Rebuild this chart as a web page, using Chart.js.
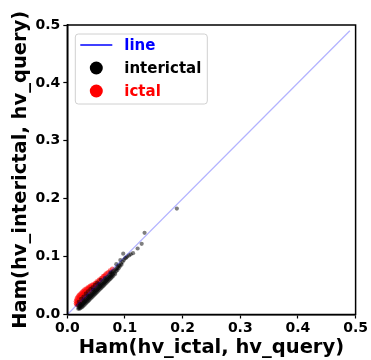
<!DOCTYPE html>
<html>
<head>
<meta charset="utf-8">
<script src="https://cdn.jsdelivr.net/npm/chart.js@4"></script>
<style>
  html, body { margin: 0; padding: 0; background: #fff; }
  #wrap { width: 371px; height: 360px; }
</style>
</head>
<body>
<div id="wrap"><canvas id="chart" width="371" height="360"></canvas></div>
<script>
// reference line y = x
const lineX = [0.0, 0.49];
const lineY = [0.0, 0.49];

// interictal points [Ham(hv_ictal, hv_query), Ham(hv_interictal, hv_query)]
const interictal = [
  [0.019, 0.010], [0.020, 0.012], [0.021, 0.010], [0.021, 0.015], [0.022, 0.013],
  [0.023, 0.011], [0.023, 0.017], [0.024, 0.014], [0.025, 0.019], [0.025, 0.016],
  [0.026, 0.013], [0.027, 0.021], [0.027, 0.018], [0.028, 0.015], [0.029, 0.023],
  [0.029, 0.020], [0.030, 0.017], [0.031, 0.026], [0.031, 0.022], [0.032, 0.019],
  [0.033, 0.028], [0.033, 0.024], [0.034, 0.021], [0.035, 0.030], [0.035, 0.026],
  [0.036, 0.023], [0.037, 0.032], [0.037, 0.028], [0.038, 0.025], [0.039, 0.034],
  [0.039, 0.030], [0.040, 0.027], [0.041, 0.036], [0.041, 0.032], [0.042, 0.029],
  [0.043, 0.038], [0.043, 0.034], [0.044, 0.031], [0.045, 0.040], [0.045, 0.036],
  [0.046, 0.033], [0.047, 0.042], [0.047, 0.038], [0.048, 0.035], [0.049, 0.044],
  [0.049, 0.040], [0.050, 0.037], [0.051, 0.046], [0.051, 0.042], [0.052, 0.039],
  [0.053, 0.048], [0.053, 0.044], [0.054, 0.041], [0.055, 0.050], [0.055, 0.046],
  [0.056, 0.043], [0.057, 0.052], [0.057, 0.048], [0.058, 0.045], [0.059, 0.054],
  [0.059, 0.050], [0.060, 0.047], [0.061, 0.056], [0.061, 0.052], [0.062, 0.049],
  [0.063, 0.058], [0.063, 0.054], [0.064, 0.051], [0.065, 0.060], [0.065, 0.056],
  [0.066, 0.053], [0.067, 0.062], [0.067, 0.058], [0.068, 0.055], [0.069, 0.064],
  [0.069, 0.060], [0.070, 0.057], [0.071, 0.066], [0.071, 0.062], [0.072, 0.059],
  [0.073, 0.068], [0.073, 0.064], [0.074, 0.061], [0.075, 0.070], [0.075, 0.066],
  [0.076, 0.063], [0.077, 0.072], [0.077, 0.068], [0.078, 0.065], [0.079, 0.074],
  [0.079, 0.070], [0.080, 0.067], [0.081, 0.076], [0.082, 0.072], [0.083, 0.070],
  [0.084, 0.078], [0.085, 0.075], [0.086, 0.080], [0.087, 0.077], [0.088, 0.083],
  [0.089, 0.080], [0.090, 0.085], [0.091, 0.083], [0.093, 0.088], [0.094, 0.086],
  [0.096, 0.091], [0.098, 0.094], [0.100, 0.097], [0.102, 0.098], [0.104, 0.100],
  [0.107, 0.102], [0.110, 0.104], [0.114, 0.106], [0.097, 0.105], [0.122, 0.114],
  [0.129, 0.122], [0.134, 0.141], [0.190, 0.183], [0.092, 0.094], [0.085, 0.087],
  [0.045, 0.043], [0.035, 0.033], [0.055, 0.053], [0.065, 0.063], [0.075, 0.073],
  [0.028, 0.025], [0.020, 0.022], [0.024, 0.027], [0.028, 0.031], [0.032, 0.036],
  [0.036, 0.040], [0.040, 0.044], [0.044, 0.047], [0.048, 0.051], [0.052, 0.055],
  [0.058, 0.060], [0.018, 0.016], [0.022, 0.019]
];

// ictal points
const ictal = [
  [0.015, 0.019], [0.015, 0.023], [0.016, 0.017], [0.016, 0.026], [0.017, 0.021],
  [0.017, 0.029], [0.018, 0.018], [0.018, 0.024], [0.019, 0.031], [0.019, 0.021],
  [0.020, 0.027], [0.020, 0.033], [0.021, 0.019], [0.021, 0.024], [0.022, 0.030],
  [0.022, 0.035], [0.023, 0.022], [0.023, 0.027], [0.024, 0.032], [0.024, 0.037],
  [0.025, 0.025], [0.025, 0.030], [0.026, 0.035], [0.026, 0.039], [0.027, 0.028],
  [0.027, 0.033], [0.028, 0.037], [0.028, 0.041], [0.029, 0.030], [0.029, 0.035],
  [0.030, 0.039], [0.030, 0.043], [0.031, 0.033], [0.032, 0.037], [0.032, 0.041],
  [0.033, 0.045], [0.034, 0.035], [0.034, 0.040], [0.035, 0.044], [0.036, 0.047],
  [0.037, 0.038], [0.037, 0.042], [0.038, 0.046], [0.039, 0.049], [0.040, 0.041],
  [0.040, 0.045], [0.041, 0.048], [0.042, 0.051], [0.043, 0.044], [0.044, 0.048],
  [0.045, 0.052], [0.046, 0.047], [0.047, 0.051], [0.048, 0.054], [0.049, 0.050],
  [0.050, 0.054], [0.051, 0.057], [0.052, 0.053], [0.054, 0.057], [0.055, 0.060],
  [0.057, 0.059], [0.058, 0.062], [0.060, 0.063], [0.062, 0.066], [0.064, 0.067],
  [0.066, 0.069], [0.068, 0.071], [0.071, 0.073], [0.074, 0.076], [0.078, 0.079]
];

const xTicks = [0.0, 0.1, 0.2, 0.3, 0.4, 0.5];
const yTicks = [0.0, 0.1, 0.2, 0.3, 0.4, 0.5];

const FONT = '"DejaVu Sans", sans-serif';

const legendItems = [
  { label: 'line', kind: 'line', color: 'rgb(0,0,255)' },
  { label: 'interictal', kind: 'dot', color: '#000' },
  { label: 'ictal', kind: 'dot', color: 'rgb(255,0,0)' }
];

// draws the top/right spines and the legend box inside the plot
const framePlugin = {
  id: 'frame',
  afterDraw(chart) {
    const { ctx, chartArea: a } = chart;
    ctx.save();
    ctx.strokeStyle = '#000';
    ctx.lineWidth = 1.5;
    ctx.strokeRect(a.left, a.top, a.right - a.left, a.bottom - a.top);

    const bx = a.left + 8, by = a.top + 9, bw = 132, bh = 70;
    ctx.beginPath();
    ctx.roundRect(bx, by, bw, bh, 3);
    ctx.fillStyle = 'rgba(255,255,255,0.8)';
    ctx.fill();
    ctx.strokeStyle = '#d0d0d0';
    ctx.lineWidth = 1;
    ctx.stroke();

    ctx.font = 'bold 15px ' + FONT;
    ctx.textBaseline = 'middle';
    legendItems.forEach((it, i) => {
      const cy = by + 11 + i * 23;
      if (it.kind === 'line') {
        ctx.strokeStyle = it.color;
        ctx.lineWidth = 1.5;
        ctx.beginPath();
        ctx.moveTo(bx + 5, cy);
        ctx.lineTo(bx + 37, cy);
        ctx.stroke();
      } else {
        ctx.fillStyle = it.color;
        ctx.beginPath();
        ctx.arc(bx + 21, cy, 6.5, 0, Math.PI * 2);
        ctx.fill();
      }
      ctx.fillStyle = it.color;
      ctx.fillText(it.label, bx + 49, cy + 1);
    });
    ctx.restore();
  }
};

const axisCommon = (title, ticks) => ({
  type: 'linear',
  min: 0,
  max: 0.5,
  afterBuildTicks: axis => { axis.ticks = ticks.map(v => ({ value: v })); },
  ticks: {
    color: '#000',
    padding: 3,
    font: { family: FONT, size: 14, weight: 'bold', lineHeight: 1.0 },
    callback: v => Number(v).toFixed(1)
  },
  grid: {
    display: true,
    drawOnChartArea: false,
    drawTicks: true,
    tickLength: 4,
    tickWidth: 1.2,
    color: '#000'
  },
  border: { display: true, color: '#000', width: 1.5 },
  title: {
    display: true,
    text: title,
    color: '#000',
    padding: { top: 0, bottom: 2 },
    font: { family: FONT, size: 19.5, weight: 'bold', lineHeight: 1.0 }
  }
});

new Chart(document.getElementById('chart'), {
  type: 'scatter',
  data: {
    datasets: [
      {
        label: 'line',
        data: lineX.map((x, i) => ({ x, y: lineY[i] })),
        showLine: true,
        borderColor: 'rgba(0,0,255,0.3)',
        borderWidth: 1.3,
        pointRadius: 0,
        order: 1
      },
      {
        label: 'interictal',
        data: interictal.map(p => ({ x: p[0], y: p[1] })),
        backgroundColor: 'rgba(0,0,0,0.5)',
        borderWidth: 0,
        pointRadius: 2.1,
        order: 2
      },
      {
        label: 'ictal',
        data: ictal.map(p => ({ x: p[0], y: p[1] })),
        backgroundColor: 'rgba(255,0,0,0.55)',
        borderWidth: 0,
        pointRadius: 2.3,
        order: 3
      }
    ]
  },
  options: {
    responsive: false,
    animation: false,
    devicePixelRatio: 1,
    layout: { padding: { left: 11, right: 9, top: 25, bottom: 0 } },
    plugins: {
      legend: { display: false },
      tooltip: { enabled: false }
    },
    scales: {
      x: axisCommon('Ham(hv_ictal, hv_query)', xTicks),
      y: axisCommon('Ham(hv_interictal, hv_query)', yTicks)
    }
  },
  plugins: [framePlugin]
});
</script>
</body>
</html>
